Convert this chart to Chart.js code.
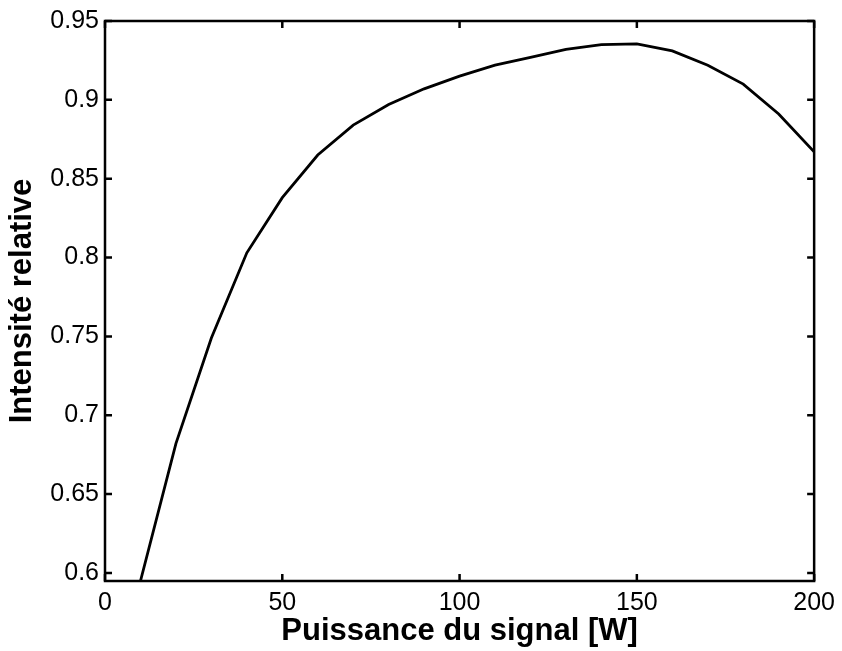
<!DOCTYPE html>
<html lang="fr">
<head>
<meta charset="utf-8">
<title>Intensité relative</title>
<script src="https://cdn.jsdelivr.net/npm/chart.js@4.4.1/dist/chart.umd.min.js"></script>
<style>
  html, body { margin: 0; padding: 0; background: #fff; }
  canvas { display: block; }
</style>
</head>
<body>
<canvas id="intensityChart" width="842" height="651"></canvas>
<script>
const POWER_W = [10, 20, 30, 40, 50, 60, 70, 80, 90, 100, 110, 120, 130, 140, 150, 160, 170, 180, 190, 200];
const INTENSITY = [0.5949, 0.682, 0.749, 0.803, 0.838, 0.865, 0.884, 0.897, 0.907, 0.915, 0.922, 0.927, 0.932, 0.935, 0.9355, 0.931, 0.922, 0.910, 0.891, 0.867];
const X_TICKS = [0, 50, 100, 150, 200];
const Y_TICKS = [0.6, 0.65, 0.7, 0.75, 0.8, 0.85, 0.9, 0.95];

const FONT = "'Liberation Sans', Arial, Helvetica, sans-serif";

// white page + box around the plot with inward ticks on all four sides
const boxPlugin = {
  id: 'boxTicks',
  beforeDraw(chart) {
    const { ctx } = chart;
    ctx.save();
    ctx.fillStyle = '#fff';
    ctx.fillRect(0, 0, chart.width, chart.height);
    ctx.restore();
  },
  afterDraw(chart) {
    const { ctx, chartArea: a, scales } = chart;
    const len = 7;
    ctx.save();
    ctx.strokeStyle = '#000';
    ctx.lineWidth = 2.5;
    ctx.beginPath();
    X_TICKS.forEach(v => {
      const px = scales.x.getPixelForValue(v);
      ctx.moveTo(px, a.bottom); ctx.lineTo(px, a.bottom - len);
      ctx.moveTo(px, a.top); ctx.lineTo(px, a.top + len);
    });
    Y_TICKS.forEach(v => {
      const py = scales.y.getPixelForValue(v);
      ctx.moveTo(a.left, py); ctx.lineTo(a.left + len, py);
      ctx.moveTo(a.right, py); ctx.lineTo(a.right - len, py);
    });
    ctx.stroke();
    ctx.strokeRect(a.left, a.top, a.right - a.left, a.bottom - a.top);
    ctx.restore();
  },
};

new Chart(document.getElementById('intensityChart'), {
  type: 'line',
  data: {
    datasets: [{
      data: POWER_W.map((x, i) => ({ x, y: INTENSITY[i] })),
      borderColor: '#000',
      borderWidth: 2.8,
      pointRadius: 0,
      tension: 0,
      fill: false,
    }],
  },
  options: {
    responsive: false,
    animation: false,
    devicePixelRatio: 1,
    layout: { padding: { top: 18, right: 25, left: 0, bottom: 0 } },
    plugins: { legend: { display: false }, tooltip: { enabled: false } },
    scales: {
      x: {
        type: 'linear',
        min: 0,
        max: 200,
        afterBuildTicks: s => { s.ticks = X_TICKS.map(value => ({ value })); },
        afterFit: s => { s.height = 70; },
        grid: { display: false, drawTicks: false },
        border: { display: false },
        ticks: { color: '#000', padding: 7, maxRotation: 0, font: { family: FONT, size: 25 } },
        title: {
          display: true,
          text: 'Puissance du signal [W]',
          color: '#000',
          padding: { top: 0, bottom: 1 },
          font: { family: FONT, size: 31, weight: 'bold' },
        },
      },
      y: {
        type: 'linear',
        min: 0.5949,
        max: 0.95,
        afterBuildTicks: s => { s.ticks = Y_TICKS.map(value => ({ value })); },
        afterFit: s => { s.width = 105; },
        grid: { display: false, drawTicks: false },
        border: { display: false },
        ticks: {
          color: '#000',
          padding: 6,
          font: { family: FONT, size: 25 },
          callback: v => String(Number(v.toFixed(2))),
        },
        title: {
          display: true,
          text: 'Intensité relative',
          color: '#000',
          padding: { top: 4, bottom: 0 },
          font: { family: FONT, size: 31, weight: 'bold' },
        },
      },
    },
  },
  plugins: [boxPlugin],
});
</script>
</body>
</html>
